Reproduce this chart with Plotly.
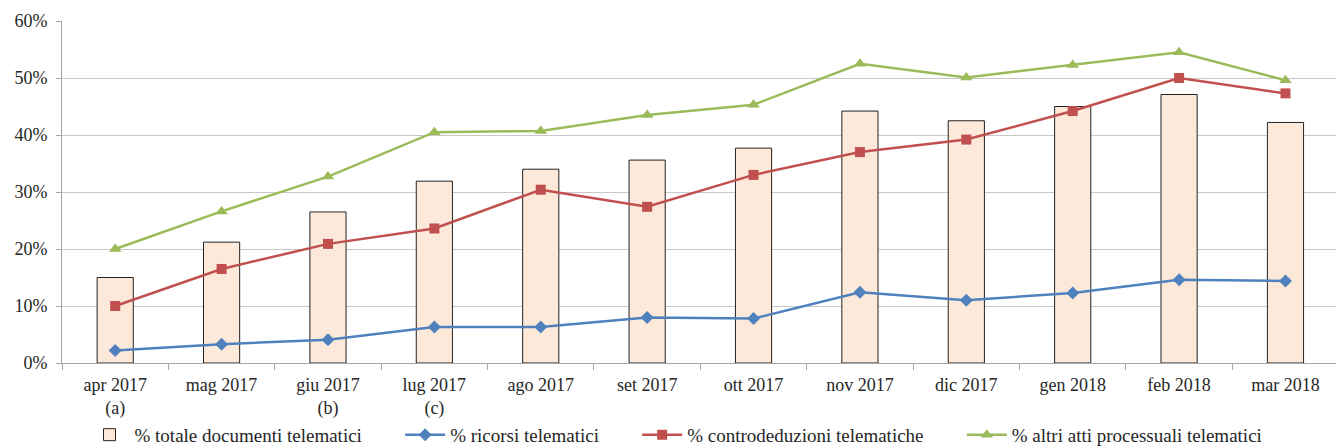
import plotly.graph_objects as go

months = ["apr 2017<br>(a)", "mag 2017", "giu 2017<br>(b)", "lug 2017<br>(c)", "ago 2017", "set 2017",
          "ott 2017", "nov 2017", "dic 2017", "gen 2018", "feb 2018", "mar 2018"]
totale = [15.0, 21.2, 26.5, 31.9, 34.0, 35.6, 37.7, 44.2, 42.5, 45.0, 47.1, 42.2]
ricorsi = [2.2, 3.3, 4.1, 6.3, 6.3, 8.0, 7.8, 12.4, 11.0, 12.3, 14.6, 14.4]
controdeduzioni = [10.0, 16.5, 20.9, 23.6, 30.4, 27.4, 33.0, 37.0, 39.2, 44.2, 50.0, 47.3]
altri = [20.0, 26.6, 32.7, 40.5, 40.7, 43.5, 45.3, 52.5, 50.1, 52.3, 54.5, 49.6]

font = "'Liberation Serif', 'Times New Roman', 'DejaVu Serif', serif"
pad = "\u00a0" * 7
fig = go.Figure()
fig.add_trace(go.Bar(x=months, y=totale, name="% totale documenti telematici" + pad,
                     marker=dict(color="#FDE9D9", line=dict(color="#222222", width=1)),
                     width=0.34))
fig.add_trace(go.Scatter(x=months, y=ricorsi, name="% ricorsi telematici" + pad, mode="lines+markers",
                         line=dict(color="#4F81BD", width=2.5),
                         marker=dict(symbol="diamond", size=10, color="#4F81BD")))
fig.add_trace(go.Scatter(x=months, y=controdeduzioni, name="% controdeduzioni telematiche" + pad, mode="lines+markers",
                         line=dict(color="#C0504D", width=2.5),
                         marker=dict(symbol="square", size=10, color="#C0504D")))
fig.add_trace(go.Scatter(x=months, y=altri, name="% altri atti processuali telematici", mode="lines+markers",
                         line=dict(color="#9BBB59", width=2.5),
                         marker=dict(symbol="triangle-up", size=11, color="#9BBB59")))

# page body has an 8px margin, so the figure is sized/offset to compensate
fig.update_layout(
    width=1336, height=440,
    margin=dict(l=54, r=0, t=13, b=85, autoexpand=False),
    paper_bgcolor="white", plot_bgcolor="white",
    font=dict(family=font, size=17, color="#262626"),
    showlegend=True,
    legend=dict(orientation="h", x=0.5, xanchor="center", xref="container",
                y=-0.21, yanchor="middle", yref="paper", bgcolor="rgba(0,0,0,0)",
                font=dict(family=font, size=19, color="#262626"), traceorder="normal", itemwidth=40),
    bargap=0.66,
)
fig.update_xaxes(type="category", range=[-0.5, 11.55], showline=True, linecolor="#A6A6A6", linewidth=1,
                 ticks="outside", tickson="boundaries", ticklen=6, tickcolor="#A6A6A6",
                 showgrid=False, tickfont=dict(family=font, size=18), automargin=False, ticklabelstandoff=5)
fig.update_yaxes(range=[0, 60], dtick=10, ticksuffix="%", showline=True, linecolor="#A6A6A6",
                 ticks="outside", ticklen=5, tickcolor="#A6A6A6",
                 gridcolor="#C8C8C8", gridwidth=1, zeroline=False, tickfont=dict(family=font, size=18),
                 automargin=False, ticklabelstandoff=5)

fig.write_html("out.html")
